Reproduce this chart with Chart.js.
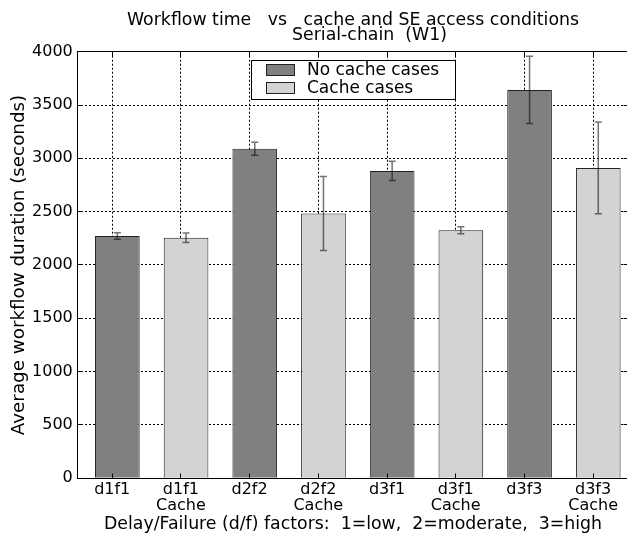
<!DOCTYPE html>
<html>
<head>
<meta charset="utf-8">
<title>Workflow time vs cache and SE access conditions</title>
<script src="https://cdn.jsdelivr.net/npm/chart.js@4.4.1/dist/chart.umd.min.js"></script>
<style>
  html, body { margin: 0; padding: 0; background: #fff; overflow: hidden; }
  /* wider than the window on purpose: the original figure is cut off on the right */
  #wrap { width: 706px; height: 533px; }
</style>
</head>
<body>
<div id="wrap"><canvas id="workflowChart"></canvas></div>
<script>
// x labels, in drawing order (no cache / cache alternate)
const categories = [
    ['d1f1'], ['d1f1', 'Cache'],
    ['d2f2'], ['d2f2', 'Cache'],
    ['d3f1'], ['d3f1', 'Cache'],
    ['d3f3'], ['d3f3', 'Cache']
];

// average workflow duration (seconds) and error half-widths
const noCacheValues = [2272, 3090, 2882, 3642];
const noCacheErrors = [31, 61, 90, 316];
const cacheValues = [2256, 2482, 2325, 2910];
const cacheErrors = [44, 347, 33, 430];

const seriesLabels = ['No cache cases', 'Cache cases'];

const FONT = "'DejaVu Sans', sans-serif";
const LABEL_SIZE = 17.33;
Chart.defaults.font.family = FONT;
Chart.defaults.font.size = 16;
Chart.defaults.color = '#000';

const barShift = 0.325;   // bar centre inside its slot
const tickShift = 0.25;   // ticks sit a bit left of the bar centres
const dotted = [2, 2];

function toPoints(values, first) {
    return values.map((v, i) => ({ x: first + 2 * i + barShift, y: v }));
}

// error bars drawn on top of the bars
const errorBars = {
    id: 'errorBars',
    afterDraw(chart) {
        const { ctx, scales: { x, y } } = chart;
        ctx.save();
        ctx.strokeStyle = 'rgba(0, 0, 0, 0.55)';
        ctx.lineWidth = 1.5;
        chart.data.datasets.forEach(ds => {
            ds.data.forEach((p, i) => {
                const px = x.getPixelForValue(p.x);
                const hi = y.getPixelForValue(p.y + ds.errors[i]);
                const lo = y.getPixelForValue(p.y - ds.errors[i]);
                ctx.beginPath();
                ctx.moveTo(px, hi); ctx.lineTo(px, lo);
                ctx.moveTo(px - 3.5, hi); ctx.lineTo(px + 3.5, hi);
                ctx.moveTo(px - 3.5, lo); ctx.lineTo(px + 3.5, lo);
                ctx.stroke();
            });
        });
        ctx.restore();
    }
};

// axes frame plus inward tick marks
const frame = {
    id: 'frame',
    afterDraw(chart) {
        const { ctx, chartArea: a, scales: { x, y } } = chart;
        const al = p => Math.round(p - 0.5) + 0.5;
        const l = al(a.left), r = al(a.right), t = al(a.top), b = al(a.bottom);
        ctx.save();
        ctx.strokeStyle = '#000';
        ctx.lineWidth = 1;
        ctx.strokeRect(l, t, r - l, b - t);
        ctx.beginPath();
        x.ticks.forEach(tk => {
            const px = al(x.getPixelForValue(tk.value));
            ctx.moveTo(px, t); ctx.lineTo(px, t + 5);
            ctx.moveTo(px, b); ctx.lineTo(px, b - 5);
        });
        y.ticks.forEach(tk => {
            const py = al(y.getPixelForValue(tk.value));
            ctx.moveTo(l, py); ctx.lineTo(l + 5, py);
            ctx.moveTo(r, py); ctx.lineTo(r - 5, py);
        });
        ctx.stroke();
        ctx.restore();
    }
};

// boxed legend at upper centre of the plot
const boxLegend = {
    id: 'boxLegend',
    afterDraw(chart) {
        const { ctx, chartArea: a } = chart;
        const w = 204, h = 39;
        const left = Math.round((a.left + a.right) / 2 - w / 2) + 0.5;
        const top = Math.round(a.top + 8) + 0.5;
        ctx.save();
        ctx.fillStyle = '#fff';
        ctx.fillRect(left, top, w, h);
        ctx.strokeStyle = '#000';
        ctx.lineWidth = 1;
        ctx.strokeRect(left, top, w, h);
        ctx.font = '17px ' + FONT;
        ctx.textBaseline = 'middle';
        chart.data.datasets.forEach((ds, i) => {
            const cy = Math.round(top + 9.7 + i * 17.5);
            ctx.fillStyle = ds.backgroundColor;
            ctx.fillRect(left + 15, cy - 5.5, 28, 11);
            ctx.strokeStyle = ds.borderColor;
            ctx.strokeRect(left + 15, cy - 5.5, 28, 11);
            ctx.fillStyle = '#000';
            ctx.fillText(ds.label, left + 55.5, cy + 1);
        });
        ctx.restore();
    }
};

const ctx = document.getElementById('workflowChart').getContext('2d');
new Chart(ctx, {
    type: 'bar',
    data: {
        datasets: [{
            label: seriesLabels[0],
            data: toPoints(noCacheValues, 0),
            errors: noCacheErrors,
            backgroundColor: '#808080',
            borderColor: '#222222',
            borderWidth: 1,
            grouped: false,
            barPercentage: 0.65,
            categoryPercentage: 1
        }, {
            label: seriesLabels[1],
            data: toPoints(cacheValues, 1),
            errors: cacheErrors,
            backgroundColor: '#d3d3d3',
            borderColor: '#222222',
            borderWidth: 1,
            grouped: false,
            barPercentage: 0.65,
            categoryPercentage: 1
        }]
    },
    options: {
        responsive: true,
        maintainAspectRatio: false,
        animation: false,
        layout: { padding: 0 },
        plugins: {
            legend: { display: false },
            tooltip: { enabled: false },
            title: {
                display: true,
                text: ['Workflow time   vs   cache and SE access conditions', '      Serial-chain  (W1)'],
                color: '#000',
                font: { size: LABEL_SIZE, weight: 'normal', lineHeight: 0.88 },
                padding: { top: 13, bottom: 8.2 }
            }
        },
        scales: {
            x: {
                type: 'linear',
                min: -0.258,
                max: 7.768,
                offset: false,
                z: 1,
                afterBuildTicks: s => {
                    s.ticks = categories.map((c, i) => ({ value: i + tickShift }));
                },
                ticks: {
                    autoSkip: false,
                    maxRotation: 0,
                    padding: 3.2,
                    font: { size: 16, lineHeight: 1 },
                    callback: (v, i) => categories[i]
                },
                grid: { offset: false, color: '#000', lineWidth: 1, drawTicks: false, borderDash: dotted },
                border: { display: false, dash: dotted },
                title: {
                    display: true,
                    text: 'Delay/Failure (d/f) factors:  1=low,  2=moderate,  3=high',
                    font: { size: LABEL_SIZE, lineHeight: 1 },
                    padding: { top: -1, bottom: 0 }
                }
            },
            y: {
                min: 0,
                max: 4000,
                z: 1,
                afterFit: s => { s.width = 77.3; },
                ticks: { stepSize: 500, padding: 4.5, callback: v => String(v) },
                grid: { color: '#000', lineWidth: 1, drawTicks: false, borderDash: dotted },
                border: { display: false, dash: dotted },
                title: {
                    display: true,
                    text: 'Average workflow duration (seconds)',
                    font: { size: 18.3, lineHeight: 1 },
                    padding: { top: 10.3, bottom: 3 }
                }
            },
            // empty right axis so the title centres over the plot like the original
            yPad: {
                type: 'linear',
                position: 'right',
                grid: { display: false },
                border: { display: false },
                ticks: { display: false },
                afterFit: s => { s.width = 77.3; }
            }
        }
    },
    plugins: [errorBars, frame, boxLegend]
});
</script>
</body>
</html>
